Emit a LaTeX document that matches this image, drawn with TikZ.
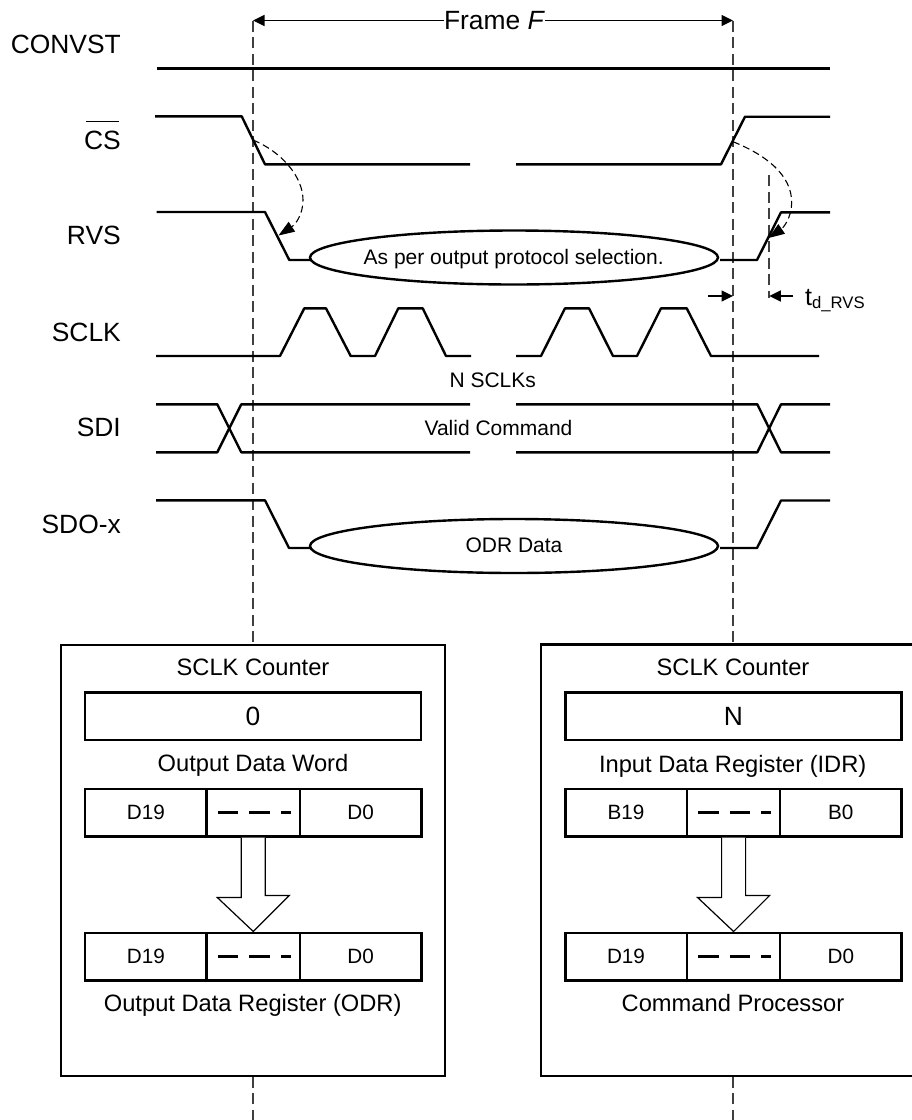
\documentclass[tikz,border=0pt]{standalone}
\usepackage{fontspec}
\setmainfont{Liberation Sans}
\usetikzlibrary{arrows.meta,shapes.geometric}
\tikzset{
  wave/.style={line width=2.4pt,line join=round,black},
  guide/.style={line width=1.5pt,draw=black!75,dash pattern=on 11pt off 5.5pt},
  thin arrow/.style={line width=1.2pt,-{Triangle[length=11.5pt,width=11pt]}},
  causal/.style={line width=1.1pt,dash pattern=on 7pt off 4pt,-{Triangle[length=16pt,width=11.5pt]}},
  siglabel/.style={anchor=base east,inner sep=0pt,font=\fontsize{26.4}{30}\selectfont},
  midtext/.style={anchor=base,inner sep=0pt,font=\fontsize{21}{25}\selectfont},
  boxtext/.style={anchor=base,inner sep=0pt,font=\fontsize{23.7}{28}\selectfont},
  blob/.style={ellipse,draw,fill=white,line width=2.4pt,inner sep=0pt,minimum width=408pt,minimum height=54pt},
  outerbox/.style={draw,fill=white,line width=2.5pt,inner sep=0pt},
  wide/.style={draw,fill=white,line width=2.5pt,inner sep=0pt,minimum width=336pt,minimum height=47.5pt,font=\fontsize{26.4}{30}\selectfont,text height=19pt,text depth=0pt},
  cell/.style={draw,fill=white,line width=2.5pt,inner sep=0pt,minimum height=47.5pt,font=\fontsize{20.7}{25}\selectfont,text height=15pt,text depth=2pt},
  sidecell/.style={cell,minimum width=121.5pt},
  midcell/.style={cell,minimum width=93pt},
  blockarrow/.style={draw,fill=white,line width=1.2pt,line join=miter},
  dots/.style={line width=2.8pt,dash pattern=on 20.7pt off 11pt}
}
\begin{document}
\begin{tikzpicture}[x=1pt,y=-1pt]
\useasboundingbox (0,0) rectangle (912,1120);
\fill[white] (0,0) rectangle (912,1120);

% guides
\coordinate (gl0) at (253,20.5);
\coordinate (gl1) at (253,1120);
\coordinate (gr0) at (733,20.5);
\coordinate (gr1) at (733,1120);
\draw[guide] (gl0) -- (gl1);
\draw[guide] (gr0) -- (gr1);
\coordinate (td0) at (769,175);
\coordinate (td1) at (769,298);
\draw[guide] (td0) -- (td1);

% frame arrows
\node[anchor=base,inner sep=0pt,font=\fontsize{26.4}{30}\selectfont] (frame) at (494.5,29.3) {Frame \textit{F}};
\draw[thin arrow] (frame.west |- gl0) -- (gl0);
\draw[thin arrow] (frame.east |- gr0) -- (gr0);

% signal labels
\node[siglabel] (lconv) at (121,53.7) {CONVST};
\node[siglabel] (lcs) at (121,149) {\rlap{\hspace{2pt}\raisebox{27pt}{\rule{33pt}{1.1pt}}}CS};
\node[siglabel] (lrvs) at (121,244.6) {RVS};
\node[siglabel] (lsclk) at (121,341) {SCLK};
\node[siglabel] (lsdi) at (121,436.8) {SDI};
\node[siglabel] (lsdo) at (121,533.3) {SDO-x};

% CONVST
\draw[wave] (156.5,68.3) -- (830,68.3);
% CS
\draw[wave] (155,116.3) -- (241.7,116.3) -- (265,164.3) -- (470,164.3);
\draw[wave] (516,164.3) -- (721,164.3) -- (745,116.7) -- (830,116.7);
% RVS
\draw[wave] (156.5,212) -- (265,212) -- (289.3,260) -- (312,260);
\draw[wave] (720,260) -- (757,260) -- (781,212.3) -- (830,212.3);
\node[blob] (rvsblob) at (514,257.5) {};
\node[inner sep=0pt,anchor=base,font=\fontsize{21}{25}\selectfont] (rvstext) at (513.7,264) {As per output protocol selection.};
% SCLK
\draw[wave] (156,356) -- (280,356) -- (304.3,308.3) -- (326,308.3) -- (350.7,356) -- (375,356) -- (398.3,308.3) -- (422.7,308.3) -- (446,356) -- (471,356);
\draw[wave] (516,356) -- (541,356) -- (565,308.3) -- (589,308.3) -- (613,356) -- (637,356) -- (661,308.3) -- (686.7,308.3) -- (711,356) -- (819,356);
\node[midtext] (nsclk) at (492.7,387) {N SCLKs};
% SDI
\draw[wave] (156,404.3) -- (217.3,404.3) -- (241.3,452.3) -- (470,452.3);
\draw[wave] (156,452.3) -- (217.3,452.3) -- (241.3,404.3) -- (470,404.3);
\draw[wave] (516,404.3) -- (757.3,404.3) -- (781,452.3) -- (830,452.3);
\draw[wave] (516,452.3) -- (757.3,452.3) -- (781,404.3) -- (830,404.3);
\node[midtext] (vcmd) at (498.5,435) {Valid Command};
% SDO
\draw[wave] (156,500.3) -- (265,500.3) -- (289,548) -- (312,548);
\draw[wave] (720,548) -- (757,548) -- (781,500.5) -- (830,500.5);
\node[blob] (sdoblob) at (514,546) {};
\node[midtext] (sdotext) at (514,552) {ODR Data};

% causal arrows
\coordinate (c1a) at (253,140);
\coordinate (c1b) at (278.5,235.5);
\draw[causal] (c1a) .. controls (282,152) and (303,177) .. (303,200) .. controls (303,214) and (296,224) .. (c1b);
\coordinate (c2a) at (733,141.7);
\coordinate (c2b) at (768.5,238);
\draw[causal] (c2a) .. controls (766,155) and (792,175) .. (791.7,203) .. controls (791.5,218) and (783,228) .. (c2b);

% delay
\coordinate (d1) at (708.3,296);
\coordinate (d1t) at (733,296);
\coordinate (d2) at (793.3,296);
\coordinate (d2t) at (769.3,296);
\draw[thin arrow] (d1) -- (d1t);
\draw[thin arrow] (d2) -- (d2t);
\node[anchor=base west,inner sep=0pt,font=\fontsize{25}{30}\selectfont] (tdrvs) at (805,305) {t\raisebox{-3pt}{\fontsize{16.7}{20}\selectfont d\_RVS}};

% left box
\node[outerbox,minimum width=384pt,minimum height=431pt] (boxa) at (253,860.5) {};
\node[boxtext] (a0) at (253,675) {SCLK Counter};
\node[wide] (acount) at (253,716.4) {0};
\node[boxtext] (a1) at (253,771.7) {Output Data Word};
\node[sidecell] (a2l) at (145.8,812.5) {D19};
\node[midcell] (a2m) at (253.3,812.5) {};
\node[sidecell] (a2r) at (360.6,812.5) {D0};
\node[sidecell] (a3l) at (145.8,956.5) {D19};
\node[midcell] (a3m) at (253.3,956.5) {};
\node[sidecell] (a3r) at (360.6,956.5) {D0};
\draw[dots] ([xshift=-35.6pt]a2m.center) -- ([xshift=37.4pt]a2m.center);
\draw[dots] ([xshift=-35.6pt]a3m.center) -- ([xshift=37.4pt]a3m.center);
\draw[blockarrow] ([xshift=-12pt]a2m.south) -- ++(0,60) -- ++(-24,0) -- (a3m.north) -- ++(36,-36) -- ++(-24,0) -- ([xshift=12pt]a2m.south);
\node[boxtext] (a4) at (252.7,1011.7) {Output Data Register (ODR)};

% right box
\coordinate (b0) at (912,644.5);
\coordinate (b1) at (541,644.5);
\coordinate (b2) at (541,1076);
\coordinate (b3) at (912,1076);
\fill[white] (b0) -- (b1) -- (b2) -- (b3) -- cycle;
\draw[line width=2.5pt,line join=miter] (b0) -- (b1) -- (b2) -- (b3);
\node[boxtext] (c0) at (733,675.5) {SCLK Counter};
\node[wide] (ccount) at (733.3,716.4) {N};
\node[boxtext] (c1) at (732.7,772) {Input Data Register (IDR)};
\node[sidecell] (c2l) at (626,812.5) {B19};
\node[midcell] (c2m) at (733.6,812.5) {};
\node[sidecell] (c2r) at (840.8,812.5) {B0};
\node[sidecell] (c3l) at (626,956.5) {D19};
\node[midcell] (c3m) at (733.6,956.5) {};
\node[sidecell] (c3r) at (840.8,956.5) {D0};
\draw[dots] ([xshift=-35.6pt]c2m.center) -- ([xshift=37.4pt]c2m.center);
\draw[dots] ([xshift=-35.6pt]c3m.center) -- ([xshift=37.4pt]c3m.center);
\draw[blockarrow] ([xshift=-12pt]c2m.south) -- ++(0,60) -- ++(-24,0) -- (c3m.north) -- ++(36,-36) -- ++(-24,0) -- ([xshift=12pt]c2m.south);
\node[boxtext] (c4) at (733,1011.7) {Command Processor};
\end{tikzpicture}
\end{document}
